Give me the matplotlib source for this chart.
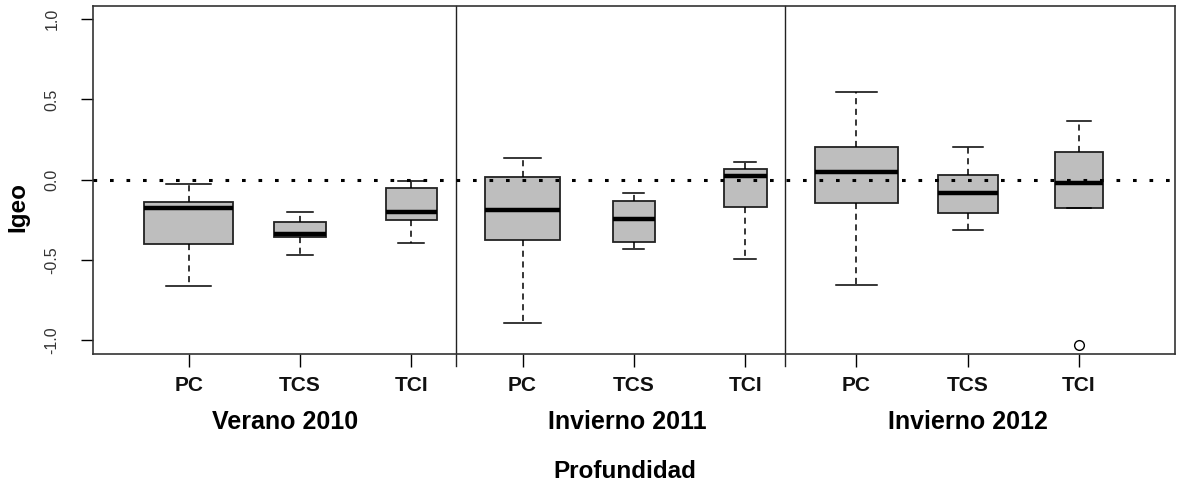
import numpy as np
import matplotlib
matplotlib.use("Agg")
import matplotlib.pyplot as plt
import matplotlib.transforms as mtransforms

plt.rcParams['font.family'] = ['Liberation Sans', 'DejaVu Sans']

# valores (Igeo)
grupos = ["Verano 2010", "Invierno 2011", "Invierno 2012"]
etiquetas = ["PC", "TCS", "TCI"] * 3
whislo = [-0.664, -0.471, -0.392, -0.890, -0.431, -0.490, -0.655, -0.313, -0.178]
q1 = [-0.402, -0.355, -0.247, -0.373, -0.384, -0.168, -0.147, -0.207, -0.178]
med = [-0.176, -0.338, -0.203, -0.187, -0.245, 0.021, 0.048, -0.079, -0.021]
q3 = [-0.137, -0.263, -0.052, 0.017, -0.129, 0.066, 0.205, 0.029, 0.174]
whishi = [-0.027, -0.203, -0.010, 0.135, -0.081, 0.114, 0.546, 0.205, 0.369]
outliers = [[], [], [], [], [], [], [], [], [-1.029]]
anchos = [0.80, 0.47, 0.46, 0.68, 0.375, 0.385, 0.75, 0.54, 0.425]
pos_grupos = [1.87, 4.94, 8.0]
separadores = [3.4, 6.36]

stats = []
for i in range(9):
    stats.append(dict(whislo=whislo[i], q1=q1[i], med=med[i], q3=q3[i],
                      whishi=whishi[i], fliers=outliers[i], label=etiquetas[i]))

fig = plt.figure(figsize=(11.77, 4.86), dpi=100)
ax = fig.add_axes([0.079, 0.272, 0.919, 0.716])

posiciones = np.arange(1, 10)
ax.bxp(stats, positions=posiciones, widths=anchos, patch_artist=True,
       boxprops=dict(facecolor="#bebebe", edgecolor="#222222", linewidth=1.3),
       medianprops=dict(color="black", linewidth=3.2, solid_capstyle="butt"),
       whiskerprops=dict(color="black", linewidth=1.1, linestyle=(0, (4, 3))),
       capprops=dict(color="black", linewidth=1.1),
       flierprops=dict(marker="o", markerfacecolor="white", markeredgecolor="black",
                       markersize=7, markeredgewidth=1.0),
       capwidths=[w / 2 for w in anchos])

ax.axhline(0, color="black", linewidth=2.2, linestyle=(0, (1.2, 4.2)), zorder=5)

ax.set_xlim(0.14, 9.86)
ax.set_ylim(-1.083, 1.083)

trans = mtransforms.blended_transform_factory(ax.transData, ax.transAxes)
for s in separadores:
    ax.plot([s, s], [1, -0.034], color="#222222", linewidth=1.0,
            transform=trans, clip_on=False)

ax.set_yticks([-1.0, -0.5, 0.0, 0.5, 1.0])
ax.set_yticklabels(["-1.0", "-0.5", "0.0", "0.5", "1.0"], rotation=90,
                   va="center", fontsize=11.5, color="#333333")
ax.set_xticks(posiciones)
ax.set_xticklabels(etiquetas, fontsize=15, fontweight="bold", color="#111111")
ax.tick_params(axis="y", length=9, width=1.0, pad=15)
ax.tick_params(axis="x", length=9, width=1.0, pad=7)

for sp in ax.spines.values():
    sp.set_linewidth(1.2)
    sp.set_color("#333333")

for g, x in zip(grupos, pos_grupos):
    ax.text(x, -0.195, g, transform=trans, ha="center", va="center",
            fontsize=18, fontweight="bold")

fig.text(625 / 1177, 1 - 471 / 486, "Profundidad", ha="center", va="center",
         fontsize=17.5, fontweight="bold")
fig.text(17.5 / 1177, 1 - 207 / 486, "Igeo", ha="center", va="center",
         rotation=90, fontsize=17.5, fontweight="bold")

fig.savefig("out.png", dpi=100, facecolor="white")
